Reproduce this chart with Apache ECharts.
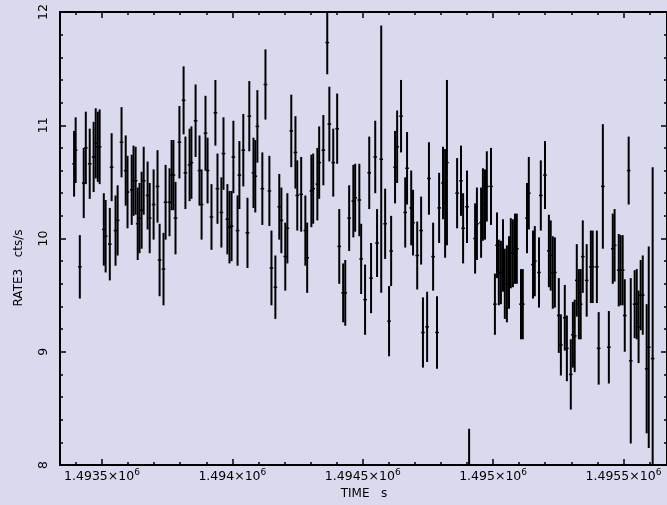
<!DOCTYPE html>
<html>
<head>
<meta charset="utf-8">
<script src="https://cdn.jsdelivr.net/npm/echarts@6/dist/echarts.min.js"></script>
<style>
html,body{margin:0;padding:0;background:#dadaee;}
#chart{width:667px;height:505px;}
</style>
</head>
<body>
<div id="chart"></div>
<script>
// ---- data ----
const times = [
1493393,1493399,1493415,1493430,1493438,1493453,1493468,1493476,1493484,1493491,
1493507,1493514,1493530,1493537,1493552,1493560,1493575,1493591,1493598,1493614,
1493621,1493629,1493637,1493644,1493652,1493660,1493675,1493683,1493698,1493713,
1493721,1493736,1493744,1493759,1493767,1493774,1493782,1493797,1493813,1493820,
1493836,1493843,1493859,1493874,1493882,1493897,1493905,1493920,1493935,1493943,
1493958,1493966,1493981,1493989,1493997,1494004,1494020,1494027,1494042,1494058,
1494065,1494081,1494088,1494096,1494115,1494127,1494142,1494150,1494165,1494180,
1494188,1494203,1494211,1494226,1494242,1494249,1494264,1494280,1494287,1494303,
1494310,1494326,1494333,1494349,1494364,1494372,1494387,1494402,1494410,1494425,
1494433,1494448,1494464,1494471,1494487,1494494,1494509,1494525,1494532,1494548,
1494555,1494571,1494586,1494601,1494609,1494624,1494632,1494647,1494663,1494670,
1494686,1494693,1494709,1494724,1494731,1494747,1494754,1494770,1494785,1494793,
1494808,1494816,1494823,1494862,1494877,1494885,1494900,1494908,1494931,1494938,
1494954,1494961,1494969,1494976,1494992,1495007,1495015,1495022,1495030,1495038,
1495045,1495053,1495061,1495068,1495076,1495084,1495091,1495107,1495114,1495130,
1495137,1495153,1495160,1495176,1495183,1495199,1495214,1495221,1495229,1495237,
1495252,1495260,1495275,1495283,1495298,1495306,1495313,1495321,1495329,1495336,
1495344,1495359,1495375,1495382,1495398,1495405,1495421,1495444,1495459,1495466,
1495482,1495489,1495497,1495505,1495520,1495528,1495543,1495551,1495558,1495566,
1495574,1495589,1495597,1495612
];
const rates = [
10.66,10.78,9.75,10.49,10.80,10.66,10.72,10.84,10.81,10.81,
10.08,10.02,9.95,10.63,10.07,10.16,10.85,10.60,10.41,10.43,
10.51,10.51,10.13,10.18,10.25,10.51,10.38,10.18,10.30,10.46,
9.81,9.73,10.32,10.32,10.56,10.56,10.18,10.85,11.22,10.58,
10.65,10.67,11.04,10.60,10.30,10.93,10.60,10.19,11.11,10.44,
10.23,10.75,10.17,10.10,10.11,10.72,10.07,10.56,10.78,10.05,
11.08,10.58,10.55,10.99,10.44,11.36,10.42,9.74,9.57,10.28,
10.16,9.84,10.09,10.95,10.76,10.38,10.39,10.07,9.83,10.42,
10.44,10.48,10.67,10.78,11.73,11.01,10.67,10.97,9.93,9.52,
9.52,10.18,10.33,10.36,10.34,9.82,9.46,10.58,9.65,10.72,
9.96,10.70,10.13,9.27,9.89,10.63,10.81,11.08,10.23,10.62,
10.27,10.14,9.85,10.07,9.17,9.22,10.53,9.84,9.17,10.27,
10.49,10.31,10.67,10.40,10.51,10.09,10.28,7.96,10.00,10.13,
10.14,10.30,10.30,10.46,10.46,9.42,9.94,9.70,9.70,9.85,
9.60,9.60,9.70,9.87,9.87,9.91,9.91,9.42,9.42,10.18,
10.40,9.77,9.80,9.70,10.38,10.56,9.89,9.85,9.70,9.70,
9.32,9.06,9.30,9.03,8.80,9.15,9.14,9.63,9.42,9.42,
9.84,9.63,9.75,9.75,9.75,9.03,10.46,9.04,9.91,9.94,
9.72,9.72,9.72,9.32,10.60,8.92,9.42,9.42,9.22,9.50,
9.50,8.85,9.04,8.94
];
const errors = [
0.29,0.29,0.28,0.31,0.32,0.31,0.31,0.31,0.31,0.33,
0.32,0.32,0.32,0.30,0.31,0.31,0.31,0.31,0.32,0.31,
0.31,0.30,0.32,0.31,0.34,0.30,0.30,0.31,0.31,0.32,
0.32,0.32,0.33,0.30,0.31,0.31,0.32,0.32,0.30,0.32,
0.32,0.32,0.32,0.31,0.31,0.33,0.29,0.29,0.29,0.31,
0.31,0.32,0.31,0.32,0.31,0.32,0.31,0.30,0.32,0.31,
0.31,0.31,0.32,0.32,0.32,0.31,0.31,0.33,0.28,0.29,
0.29,0.30,0.31,0.32,0.32,0.31,0.33,0.31,0.31,0.32,
0.31,0.32,0.32,0.31,0.28,0.33,0.30,0.31,0.33,0.26,
0.29,0.29,0.32,0.30,0.32,0.31,0.31,0.32,0.31,0.32,
0.30,1.18,0.31,0.31,0.31,0.32,0.32,0.32,0.31,0.32,
0.33,0.29,0.30,0.30,0.31,0.31,0.32,0.30,0.32,0.31,
0.32,0.48,0.73,0.31,0.31,0.31,0.32,0.36,0.31,0.32,
0.31,0.32,0.31,0.31,0.34,0.27,0.29,0.29,0.28,0.32,
0.31,0.34,0.32,0.31,0.30,0.31,0.31,0.31,0.31,0.31,
0.32,0.30,0.31,0.31,0.31,0.30,0.32,0.31,0.32,0.31,
0.33,0.27,0.29,0.29,0.31,0.29,0.32,0.32,0.31,0.31,
0.32,0.32,0.32,0.32,0.32,0.32,0.55,0.32,0.31,0.32,
0.32,0.31,0.31,0.32,0.30,0.73,0.30,0.31,0.32,0.31,
0.35,0.57,0.89,1.69
];
const binHalfWidth = 7; // seconds (half of time bin)

// axis ticks / labels
const xMajorTicks = [1493500, 1494000, 1494500, 1495000, 1495500];
const xTickLabels = ['1.4935×10', '1.494×10', '1.4945×10', '1.495×10', '1.4955×10'];
const xTickExponent = '6';
const xMinorTicks = [];
for (let v = 1493400; v <= 1495600; v += 100) xMinorTicks.push(v);
const yTickValues = [8, 9, 10, 11, 12];
const yTickLabels = ['8', '9', '10', '11', '12'];
const xTitle = 'TIME   s';
const yTitle = 'RATE3   cts/s';

const X_MIN = 1493339, X_MAX = 1495667;

const FONT = 'DejaVu Sans';
const chart = echarts.init(document.getElementById('chart'));

function xAxisDef(pos, major, showLabel, showLine) {
  return {
    type: 'value', position: pos, min: X_MIN, max: X_MAX,
    axisLine: { show: showLine, onZero: false, lineStyle: { color: '#000', width: 2 } },
    axisTick: { show: true, inside: true, length: major ? 6 : 3,
      customValues: major ? xMajorTicks : xMinorTicks,
      lineStyle: { color: '#000', width: 1.5 } },
    axisLabel: { show: showLabel, customValues: xMajorTicks, margin: 3,
      color: '#000', fontFamily: FONT, fontSize: 12.5,
      formatter: function (v) {
        const i = xMajorTicks.indexOf(v);
        return (i >= 0 ? xTickLabels[i] : '') + '{s|' + xTickExponent + '}';
      },
      rich: { s: { fontSize: 9, fontFamily: FONT, color: '#000', verticalAlign: 'top', padding: [0, 0, 8, 0] } }
    },
    splitLine: { show: false }
  };
}
function yAxisDef(pos) {
  return {
    type: 'value', position: pos, min: 8, max: 12, interval: 1,
    axisLine: { show: true, onZero: false, lineStyle: { color: '#000', width: 2 } },
    axisTick: { show: true, inside: true, length: 6, lineStyle: { color: '#000', width: 1.5 } },
    minorTick: { show: true, splitNumber: 5, length: 3, lineStyle: { color: '#000', width: 1.5 } },
    axisLabel: { show: false },
    splitLine: { show: false }, minorSplitLine: { show: false }
  };
}

const seriesData = times.map((t, i) => [t, rates[i], errors[i]]);

chart.setOption({
  animation: false,
  backgroundColor: '#dadaee',
  grid: { left: 60, top: 12, right: -1, bottom: 40 },
  xAxis: [
    xAxisDef('bottom', true, true, true),
    xAxisDef('bottom', false, false, false),
    xAxisDef('top', true, false, true),
    xAxisDef('top', false, false, false)
  ],
  yAxis: [ yAxisDef('left'), yAxisDef('right') ],
  series: [{
    type: 'custom',
    xAxisIndex: 0, yAxisIndex: 0,
    clip: true,
    data: seriesData,
    encode: { x: 0, y: 1 },
    renderItem: function (params, api) {
      const t = api.value(0), r = api.value(1), e = api.value(2);
      const p1 = api.coord([t, r + e]);
      const p2 = api.coord([t, r - e]);
      const l = api.coord([t - binHalfWidth, r]);
      const rr = api.coord([t + binHalfWidth, r]);
      return {
        type: 'group',
        children: [
          { type: 'line', shape: { x1: p1[0], y1: p1[1], x2: p2[0], y2: p2[1] }, style: { stroke: '#000', lineWidth: 2 } },
          { type: 'line', shape: { x1: l[0], y1: l[1], x2: rr[0], y2: rr[1] }, style: { stroke: '#000', lineWidth: 1.5 } }
        ]
      };
    }
  }]
});

// rotated y tick labels and axis titles, placed through the axis scales
const graphics = yTickValues.map((v, i) => {
  const py = chart.convertToPixel({ yAxisIndex: 0 }, v);
  return { type: 'text', x: 44, y: py, rotation: Math.PI / 2,
    style: { text: yTickLabels[i], fill: '#000', font: '12.5px "DejaVu Sans"', align: 'center', verticalAlign: 'middle' } };
});
graphics.push({ type: 'text', x: 364, y: 494, style: { text: xTitle, fill: '#000', font: '12px "DejaVu Sans"', align: 'center', verticalAlign: 'middle' } });
graphics.push({ type: 'text', x: 19, y: 268, rotation: Math.PI / 2, style: { text: yTitle, fill: '#000', font: '12px "DejaVu Sans"', align: 'center', verticalAlign: 'middle' } });
chart.setOption({ graphic: graphics });
</script>
</body>
</html>
